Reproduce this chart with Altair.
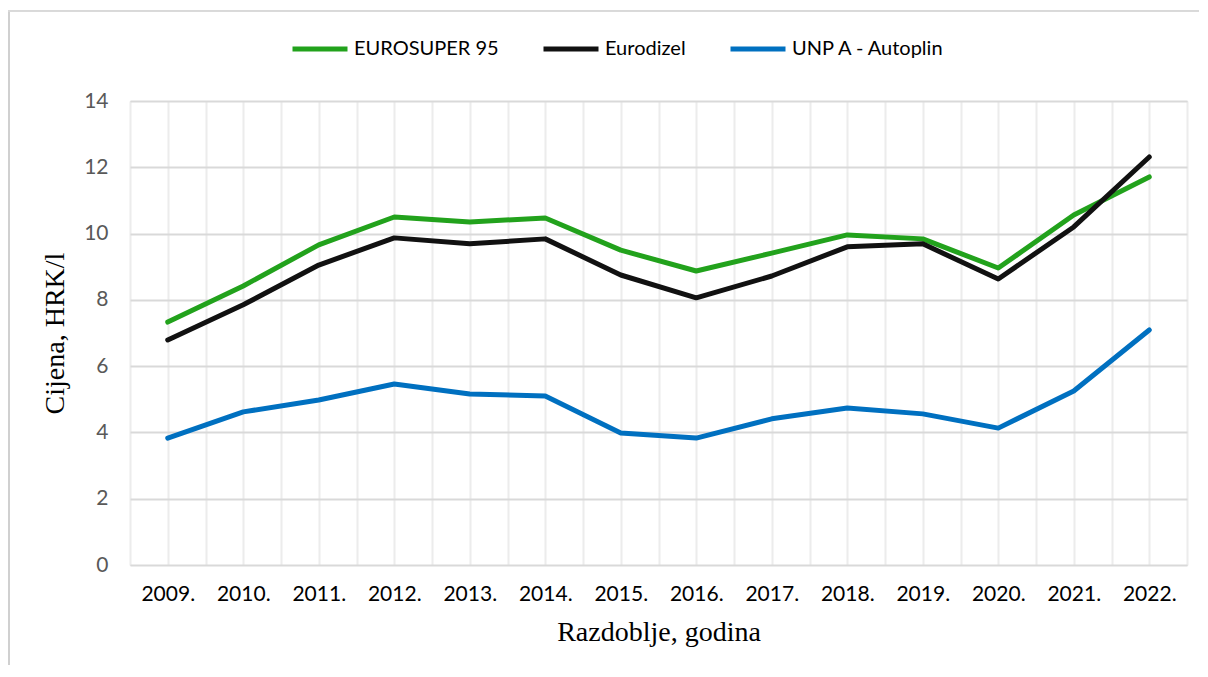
import altair as alt
import pandas as pd

years = ["2009.", "2010.", "2011.", "2012.", "2013.", "2014.", "2015.",
         "2016.", "2017.", "2018.", "2019.", "2020.", "2021.", "2022."]
eurosuper = [7.33, 8.42, 9.66, 10.50, 10.35, 10.47, 9.50, 8.87, 9.41, 9.96, 9.84, 8.96, 10.56, 11.71]
eurodizel = [6.79, 7.85, 9.05, 9.87, 9.69, 9.84, 8.75, 8.06, 8.72, 9.60, 9.69, 8.63, 10.20, 12.31]
autoplin = [3.83, 4.62, 4.98, 5.46, 5.16, 5.10, 3.98, 3.83, 4.41, 4.74, 4.56, 4.13, 5.25, 7.09]

series_names = ["EUROSUPER 95", "Eurodizel", "UNP A - Autoplin"]
series_colors = ["#22a21c", "#111111", "#0070c0"]

rows = []
for name, vals in zip(series_names, [eurosuper, eurodizel, autoplin]):
    for i, (y, v) in enumerate(zip(years, vals)):
        rows.append({"idx": i, "year": y, "series": name, "value": v})
df = pd.DataFrame(rows)

n = len(years)
xvals = [k / 2 for k in range(-1, 2 * n)]  # boundaries and centers
label_expr = ("datum.value % 1 == 0 ? (" + str(int(years[0][:4])) +
              " + datum.value) + '.' : ''")

LABEL_FONT = "Lato"
TITLE_FONT = "Liberation Serif"

lines = alt.Chart(df).mark_line(strokeWidth=5, strokeCap="round", strokeJoin="round").encode(
    x=alt.X("idx:Q",
            scale=alt.Scale(domain=[-0.5, n - 0.5], nice=False, zero=False),
            axis=alt.Axis(values=xvals, labelExpr=label_expr, title="Razdoblje, godina",
                          grid=True, gridColor="#ececec", gridWidth=2,
                          domain=False, ticks=False, labelFont=LABEL_FONT,
                          labelFontSize=21, labelColor="#000000", labelPadding=18,
                          labelOverlap=False, labelFlush=False,
                          titleFont=TITLE_FONT, titleFontSize=28,
                          titleFontWeight="normal", titleColor="#000000",
                          titlePadding=14)),
    y=alt.Y("value:Q",
            scale=alt.Scale(domain=[0, 14], nice=False),
            axis=alt.Axis(values=[0, 2, 4, 6, 8, 10, 12, 14], title="Cijena, HRK/l",
                          grid=True, gridColor="#d9d9d9", gridWidth=2,
                          domain=False, ticks=False, labelFont=LABEL_FONT,
                          labelFontSize=21, labelColor="#595959", labelPadding=22,
                          titleFont=TITLE_FONT, titleFontSize=28,
                          titleFontWeight="normal", titleColor="#000000",
                          titlePadding=14)),
    color=alt.Color("series:N",
                    scale=alt.Scale(domain=series_names, range=series_colors),
                    legend=alt.Legend(title=None, orient="none", direction="horizontal",
                                      legendX=160, legendY=-82,
                                      symbolType="stroke", symbolSize=3025,
                                      symbolStrokeWidth=5, labelFont=LABEL_FONT,
                                      labelFontSize=20, labelColor="#000000",
                                      labelOffset=4, columnPadding=34)),
    detail="series:N",
)

frame_left = alt.Chart(df).mark_rule(color="#d0d0d0", strokeWidth=2).encode(
    x=alt.value(-121), y=alt.value(-90), y2=alt.value(580))
frame_top = alt.Chart(df).mark_rule(color="#d9d9d9", strokeWidth=1).encode(
    x=alt.value(-122), x2=alt.value(1090), y=alt.value(-90))

chart = alt.layer(frame_left, frame_top, lines).properties(
    width=1057, height=464,
    autosize=alt.AutoSizeParams(type="none"),
    padding={"left": 122, "top": 93, "right": 12, "bottom": 100},
).configure_view(stroke=None).configure(background="#ffffff")

chart.save("out.html", embed_options={"renderer": "svg", "actions": False})
